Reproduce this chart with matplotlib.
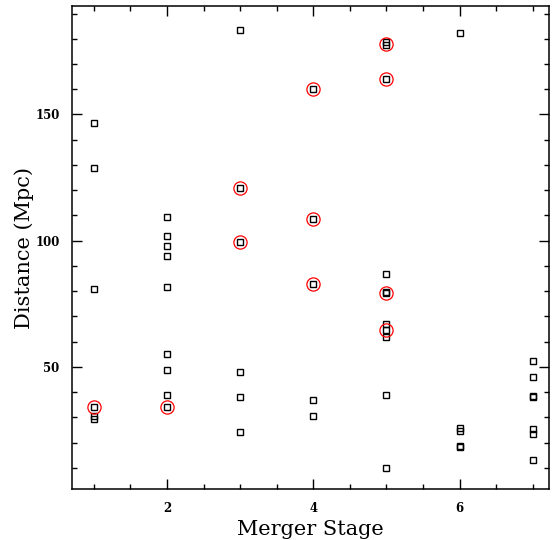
import matplotlib
matplotlib.use('Agg')
import matplotlib.pyplot as plt
from matplotlib.ticker import MultipleLocator

# merger stage / distance (Mpc) for every galaxy
stage = [1, 1, 1, 1, 1, 1,
         2, 2, 2, 2, 2, 2, 2, 2, 2,
         3, 3, 3, 3, 3, 3,
         4, 4, 4, 4, 4,
         5, 5, 5, 5, 5, 5, 5, 5, 5, 5, 5,
         6, 6, 6, 6, 6,
         7, 7, 7, 7, 7, 7, 7]
distance = [146.6, 128.8, 80.8, 34.0, 30.5, 29.2,
            109.3, 101.8, 97.8, 93.8, 81.8, 54.9, 48.8, 38.9, 34.1,
            183.5, 120.7, 99.3, 47.9, 38.0, 24.2,
            160.2, 108.7, 82.9, 37.0, 30.5,
            178.9, 177.6, 164.0, 86.9, 79.5, 79.1, 67.0, 64.4, 62.0, 38.9, 9.8,
            182.4, 25.8, 24.4, 18.6, 18.2,
            52.4, 46.0, 38.4, 38.0, 25.3, 23.5, 13.1]
# the circled ones
circ_stage = [1, 2, 3, 3, 4, 4, 4, 5, 5, 5, 5]
circ_distance = [34.0, 34.1, 120.7, 99.3, 160.2, 108.7, 82.9, 178.1, 164.0, 79.3, 64.4]

fig = plt.figure(figsize=(5.55, 5.40), dpi=100)
ax = fig.add_axes([0.1297, 0.094, 0.859, 0.895])

ax.plot(stage, distance, 's', mfc='none', mec='black', ms=5.0, mew=1.0)
ax.plot(circ_stage, circ_distance, 'o', mfc='none', mec='red', ms=9.5, mew=0.9)

ax.set_xlim(0.7, 7.22)
ax.set_ylim(1.5, 193)
ax.xaxis.set_major_locator(MultipleLocator(2))
ax.xaxis.set_minor_locator(MultipleLocator(0.5))
ax.yaxis.set_major_locator(MultipleLocator(50))
ax.yaxis.set_minor_locator(MultipleLocator(10))
ax.tick_params(which='both', direction='in', top=True, right=True, width=1.0)
ax.tick_params(which='major', length=7, labelsize=8.5, pad=9)
ax.tick_params(which='minor', length=3.6)
for lab in ax.get_xticklabels() + ax.get_yticklabels():
    lab.set_family('DejaVu Serif')
    lab.set_fontweight('bold')
for s in ax.spines.values():
    s.set_linewidth(1.1)

ax.set_xlabel('Merger Stage', family='DejaVu Serif', fontsize=15, labelpad=4)
ax.set_ylabel('Distance (Mpc)', family='DejaVu Serif', fontsize=15, labelpad=1)

fig.savefig('out.png', dpi=100)
